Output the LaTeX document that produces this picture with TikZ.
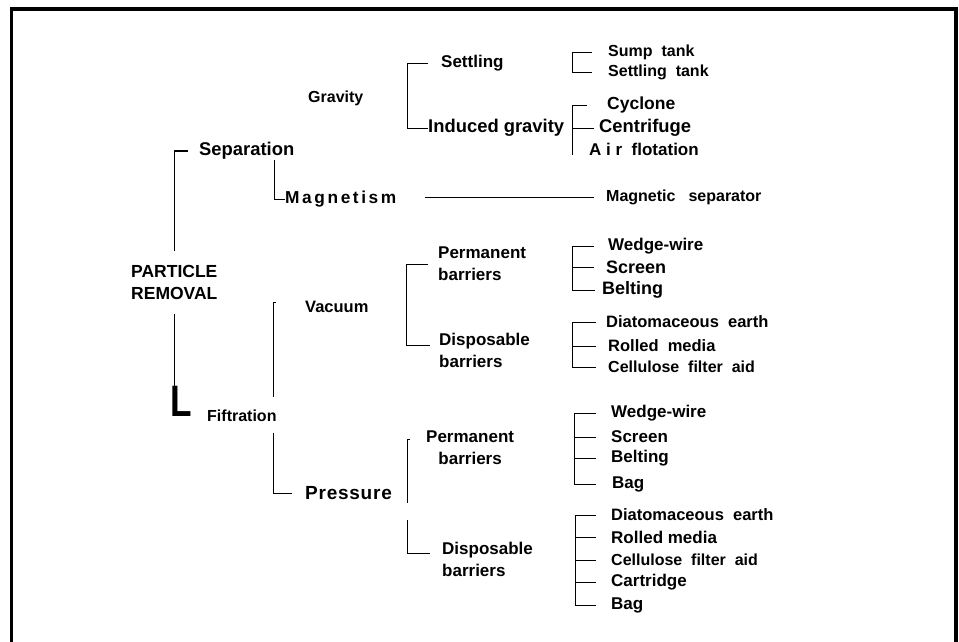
\documentclass[tikz,border=0pt]{standalone}
\usepackage{fontspec}
\setmainfont{Liberation Sans}
\newcommand{\lblfont}[1]{\bfseries\fontsize{#1}{22}\selectfont}
\begin{document}
\begin{tikzpicture}[x=1pt,y=-1pt]
      \useasboundingbox (0,0) rectangle (959,642);
      \draw[line width=3.5pt] (11.5,642) -- (11.5,9) -- (956,9) -- (956,642);
      \begin{scope}[every node/.style={anchor=west,inner sep=0pt,font=\lblfont{17}}]
        \node[align=left,font=\lblfont{17.5}] (root) at (131,282.5) {PARTICLE\\REMOVAL};
        \node[anchor=south west,font=\bfseries\fontsize{44}{44}\selectfont] (bigL) at (170,417) {\scalebox{0.8}[1]{L}};
        \node[font=\lblfont{18.4}] (sep) at (199,151) {Separation};
        \node[font=\lblfont{17.3}\addfontfeature{LetterSpace=15}] (mag) at (285,199) {Magnetism};
        \node[font=\lblfont{16}] (grav) at (308,98) {Gravity};
        \node (settl) at (441,63) {Settling};
        \node[font=\lblfont{18.4}] (indg) at (428,128) {Induced gravity};
        \node[font=\lblfont{16}] (sump) at (608,52) {Sump~~tank};
        \node[font=\lblfont{16}] (stank) at (608,72) {Settling~~tank};
        \node[font=\lblfont{17.5}] (cyc) at (607,105) {Cyclone};
        \node[font=\lblfont{18.4}] (cent) at (599,128) {Centrifuge};
        \node (air) at (589,149) {A i r~~flotation};
        \node[font=\lblfont{16}] (magsep) at (606,197) {Magnetic\hspace{13pt}separator};
        \node[font=\lblfont{16.5}] (vac) at (305,307) {Vacuum};
        \node[font=\lblfont{16}] (fift) at (207,416) {Fiftration};
        \node[font=\lblfont{19}\addfontfeature{LetterSpace=4}] (pres) at (305,493) {Pressure};
        \node[align=left] (perm1) at (438,264) {Permanent\\barriers};
        \node[align=left] (disp1) at (439,350) {Disposable\\barriers};
        \node[align=center] (perm2) at (426,448) {Permanent\\barriers};
        \node[align=left] (disp2) at (442,559) {Disposable\\barriers};
        \node (wire1) at (608,246) {Wedge-wire};
        \node[font=\lblfont{18}] (scr1) at (606,267) {Screen};
        \node[font=\lblfont{18}] (belt1) at (602,290) {Belting};
        \node[font=\lblfont{16.5}] (diat1) at (606,322) {Diatomaceous~~earth};
        \node[font=\lblfont{16.5}] (roll1) at (608,346) {Rolled~~media};
        \node[font=\lblfont{16}] (cell1) at (608,367) {Cellulose~~filter~~aid};
        \node (wire2) at (611,413) {Wedge-wire};
        \node (scr2) at (611,437) {Screen};
        \node (belt2) at (611,458) {Belting};
        \node (bag1) at (612,484) {Bag};
        \node[font=\lblfont{16.5}] (diat2) at (611,515) {Diatomaceous~~earth};
        \node (roll2) at (611,537) {Rolled media};
        \node[font=\lblfont{16}] (cell2) at (611,560) {Cellulose~~filter~~aid};
        \node (cart) at (611,582) {Cartridge};
        \node (bag2) at (611,605) {Bag};
      \end{scope}
      \begin{scope}[line width=0.9pt]
        \draw[line width=1.3pt] ([xshift=-11]sep.west) -| ([yshift=14]root.north);
        \draw[line width=1.3pt] ([yshift=-14]root.south) -- (root.south |- bigL.north);
        \draw (mag.west) -| ([xshift=-11]mag.west |- sep.south);
        \draw ([xshift=28]mag.east |- magsep.west) -- ([xshift=-12]magsep.west);
        \draw ([xshift=-29,yshift=5]vac.west) -| ([xshift=-3,yshift=13]fift.north east);
        \draw ([xshift=-3,yshift=-11]fift.south east) |- ([xshift=-13]pres.west);
        \draw ([xshift=-13]settl.west) -- ([xshift=-34]settl.west) |- (indg.west);
        \draw ([xshift=-10]perm1.west) -- ([xshift=-32]perm1.west) |- ([xshift=-9,yshift=5]disp1.west);
        \draw ([xshift=-16,yshift=9]perm2.west) -| ([xshift=15,yshift=-3]pres.south east);
        \draw ([xshift=15,yshift=-20]pres.south east) |- ([xshift=-12,yshift=6]disp2.west);
        \draw ([xshift=-16]sump.west) -- ([xshift=-36]sump.west) |- ([xshift=-16]stank.west);
        \draw ([xshift=-20]cyc.west) -- ([xshift=-35]cyc.west) -- ([xshift=-35]cyc.west |- air.south);
        \draw ([xshift=-35]cyc.west |- cent.west) -- ([xshift=-5]cent.west);
        \draw ([xshift=-14]wire1.west) -- ([xshift=-36]wire1.west) |- ([xshift=-7]belt1.west);
        \draw ([xshift=-36]wire1.west |- scr1.west) -- ([xshift=-12]scr1.west);
        \draw ([xshift=-10]diat1.west) -- ([xshift=-34]diat1.west) |- ([xshift=-12]cell1.west);
        \draw ([xshift=-34]diat1.west |- roll1.west) -- ([xshift=-12]roll1.west);
        \draw ([xshift=-15]wire2.west) -- ([xshift=-37]wire2.west) |- ([xshift=-16]bag1.west);
        \draw ([xshift=-37]wire2.west |- scr2.west) -- ([xshift=-15]scr2.west);
        \draw ([xshift=-37]wire2.west |- belt2.west) -- ([xshift=-15]belt2.west);
        \draw ([xshift=-15]diat2.west) -- ([xshift=-36]diat2.west) |- ([xshift=-15]bag2.west);
        \draw ([xshift=-36]diat2.west |- roll2.west) -- ([xshift=-15]roll2.west);
        \draw ([xshift=-36]diat2.west |- cell2.west) -- ([xshift=-15]cell2.west);
        \draw ([xshift=-36]diat2.west |- cart.west) -- ([xshift=-15]cart.west);
      \end{scope}
    \end{tikzpicture}
\end{document}
